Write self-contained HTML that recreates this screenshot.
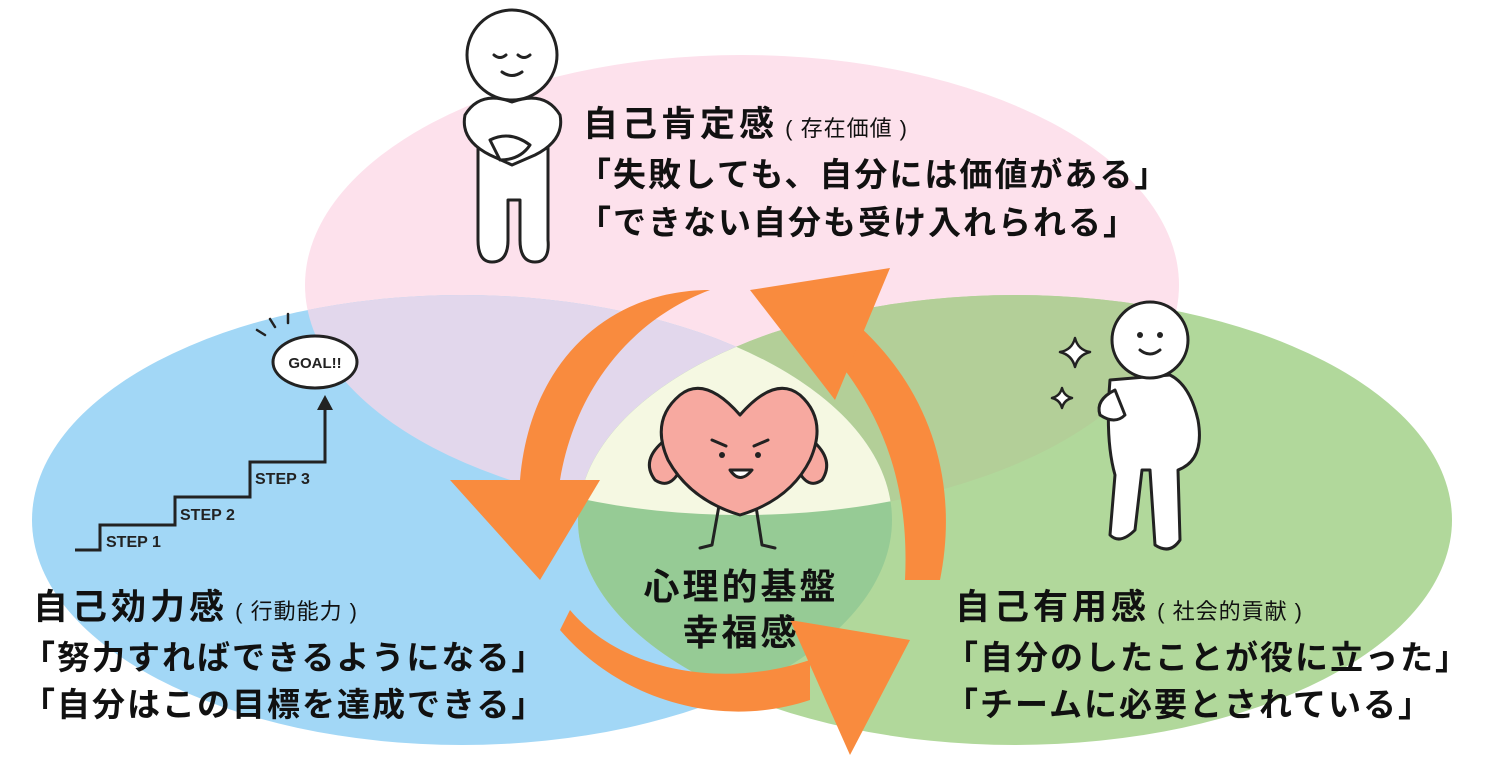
<!DOCTYPE html>
<html><head><meta charset="utf-8">
<style>
html,body{margin:0;padding:0;background:#fff;}
body{width:1487px;height:758px;overflow:hidden;position:relative;font-family:"Liberation Sans","Noto Sans CJK JP",sans-serif;}
svg{position:absolute;left:0;top:0;}
.t{position:absolute;font-weight:bold;color:#111;white-space:nowrap;font-family:"Liberation Sans","Noto Sans CJK JP",sans-serif;}
.h{font-size:35px;letter-spacing:4px;}
.h span{font-size:22px;font-weight:normal;letter-spacing:1px;}
.l{font-size:33px;letter-spacing:2px;}
</style></head><body>
<svg width="1487" height="758" viewBox="0 0 1487 758">
<defs>
<clipPath id="cp"><ellipse cx="742" cy="285" rx="437" ry="230"/></clipPath>
<clipPath id="cb"><ellipse cx="462" cy="520" rx="430" ry="225"/></clipPath>
<clipPath id="cg"><ellipse cx="1015" cy="520" rx="437" ry="225"/></clipPath>
</defs>
<ellipse cx="742" cy="285" rx="437" ry="230" fill="#fde1ec"/>
<ellipse cx="462" cy="520" rx="430" ry="225" fill="#a2d7f6"/>
<ellipse cx="1015" cy="520" rx="437" ry="225" fill="#b1d89b"/>
<g clip-path="url(#cp)"><ellipse cx="462" cy="520" rx="430" ry="225" fill="#e2d7ec"/><ellipse cx="1015" cy="520" rx="437" ry="225" fill="#b3cf98"/></g>
<g clip-path="url(#cb)"><ellipse cx="1015" cy="520" rx="437" ry="225" fill="#96cb95"/></g>
<g clip-path="url(#cb)"><g clip-path="url(#cg)"><ellipse cx="742" cy="285" rx="437" ry="230" fill="#f5f8e2"/></g></g>

<g fill="#f98b3e">
<path d="M710 290 C610 290 530 360 520 480 L560 480 C575 390 630 320 710 290 Z"/>
<polygon points="450,480 600,480 540,580"/>
<path d="M560 630 C620 700 720 730 810 700 L810 660 C720 690 620 670 570 610 Z"/>
<polygon points="790,620 910,640 850,755"/>
<path d="M940 580 C960 480 930 380 840 310 L810 330 C880 400 910 480 905 580 Z"/>
<polygon points="750,290 890,268 835,400"/>
</g>

<g fill="#fff" stroke="#222" stroke-width="3" stroke-linecap="round" stroke-linejoin="round">
<path d="M478 120 L478 240 Q478 262 492 262 Q508 262 508 240 L508 200 L520 200 L520 240 Q520 262 535 262 Q550 262 548 240 L548 120 Z"/>
<circle cx="512" cy="55" r="45"/>
<path d="M512 102 Q480 90 465 115 Q460 140 490 155 L512 165 L535 155 Q565 140 560 115 Q545 90 512 102 Z"/>
<path d="M490 140 Q510 130 530 145 Q520 160 500 160 Z"/>
</g>
<g fill="none" stroke="#222" stroke-width="3" stroke-linecap="round">
<path d="M494 55 q6 5 12 0"/><path d="M518 55 q6 5 12 0"/><path d="M502 72 q10 7 20 0"/>
</g>

<g fill="#fff" stroke="#222" stroke-width="3" stroke-linecap="round" stroke-linejoin="round">
<path d="M1110 380 Q1105 440 1115 475 L1110 535 Q1120 545 1135 530 L1142 470 L1150 470 L1155 545 Q1170 555 1180 540 L1178 470 Q1205 460 1198 420 Q1190 385 1170 375 Z"/>
<circle cx="1150" cy="340" r="38"/>
<path d="M1115 390 Q1095 400 1100 415 Q1115 425 1125 415 Z"/>
</g>
<g fill="none" stroke="#222" stroke-width="3" stroke-linecap="round">
<path d="M1140 350 q10 8 20 0"/>
</g>
<circle cx="1140" cy="335" r="3" fill="#222"/><circle cx="1160" cy="335" r="3" fill="#222"/>
<g fill="#fff" stroke="#222" stroke-width="2.5" stroke-linejoin="round">
<path d="M1075 338 Q1078 350 1090 352 Q1078 355 1075 367 Q1072 355 1060 352 Q1072 350 1075 338 Z"/>
<path d="M1062 388 Q1064 396 1072 398 Q1064 400 1062 408 Q1060 400 1052 398 Q1060 396 1062 388 Z"/>
</g>

<g stroke="#222" stroke-width="3" stroke-linecap="round" stroke-linejoin="round">
<path d="M720 500 L712 545 L700 548" fill="none"/><path d="M755 500 L762 545 L775 548" fill="none"/>
<path d="M665 440 Q640 460 655 480 Q670 490 680 470" fill="#f7a9a0"/>
<path d="M812 440 Q835 460 822 480 Q808 490 798 470" fill="#f7a9a0"/>
<path d="M740 415 Q705 375 680 395 Q650 420 668 460 Q690 500 740 515 Q790 500 810 460 Q828 420 800 395 Q775 375 740 415 Z" fill="#f7a9a0"/>
<path d="M712 440 l14 6 M768 440 l-14 6" fill="none"/>
<path d="M730 470 Q740 485 752 470 Z" fill="#fff"/>
</g>
<circle cx="722" cy="455" r="3" fill="#222"/><circle cx="758" cy="455" r="3" fill="#222"/>

<path d="M75 550 L100 550 L100 525 L175 525 L175 497 L250 497 L250 462 L325 462 L325 405" fill="none" stroke="#222" stroke-width="3"/>
<polygon points="317,410 325,395 333,410" fill="#222"/>
<text x="106" y="547" font-family="Liberation Sans,sans-serif" font-size="16" font-weight="bold" fill="#222">STEP 1</text>
<text x="180" y="520" font-family="Liberation Sans,sans-serif" font-size="16" font-weight="bold" fill="#222">STEP 2</text>
<text x="255" y="484" font-family="Liberation Sans,sans-serif" font-size="16" font-weight="bold" fill="#222">STEP 3</text>
<ellipse cx="315" cy="362" rx="42" ry="26" fill="#fff" stroke="#222" stroke-width="3"/>
<text x="315" y="368" text-anchor="middle" font-family="Liberation Sans,sans-serif" font-size="15" font-weight="bold" fill="#222">GOAL!!</text>
<g stroke="#222" stroke-width="2.5" stroke-linecap="round"><path d="M265 335 l-8 -5 M275 327 l-5 -8 M288 323 l0 -9"/></g>
</svg>

<div class="t h" style="left:583px;top:96px;">自己肯定感<span> ( 存在価値 )</span></div>
<div class="t l" style="left:578px;top:148px;">「失敗しても、自分には価値がある」</div>
<div class="t l" style="left:578px;top:196px;">「できない自分も受け入れられる」</div>

<div class="t h" style="left:33px;top:579px;">自己効力感<span> ( 行動能力 )</span></div>
<div class="t l" style="left:22px;top:631px;">「努力すればできるようになる」</div>
<div class="t l" style="left:22px;top:678px;">「自分はこの目標を達成できる」</div>

<div class="t h" style="left:955px;top:579px;">自己有用感<span> ( 社会的貢献 )</span></div>
<div class="t l" style="left:945px;top:631px;">「自分のしたことが役に立った」</div>
<div class="t l" style="left:945px;top:678px;">「チームに必要とされている」</div>

<div class="t" style="left:631px;top:564px;width:220px;text-align:center;font-size:36px;letter-spacing:3px;line-height:46px;">心理的基盤<br>幸福感</div>
</body></html>
